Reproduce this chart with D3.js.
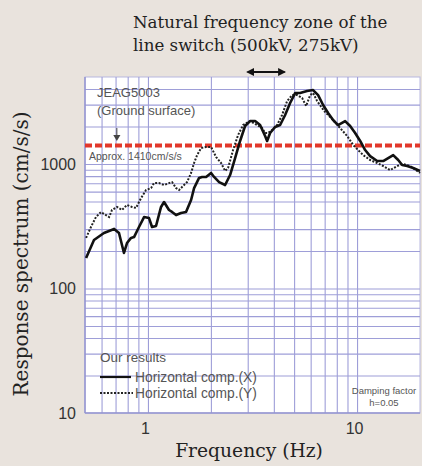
<!DOCTYPE html>
<html>
<head>
<meta charset="utf-8">
<script src="https://cdn.jsdelivr.net/npm/d3@7"></script>
<style>
  body { margin: 0; background: #e9e3dd; }
  svg { display: block; }
  .grid line { stroke: #9e9ed8; stroke-width: 1.1; }
  .grid .domain { display: none; }
  .tick-lbl text { font-family: "Liberation Sans", Arial, sans-serif; font-size: 16px; fill: #333; }
  .tick-lbl .domain { display: none; }
  .serif { font-family: "DejaVu Serif", serif; fill: #222; }
  .note { font-family: "Liberation Sans", Arial, sans-serif; fill: #555; }
</style>
</head>
<body>
<svg id="chart" width="422" height="466"></svg>
<script>
(function() {
    var width = 422, height = 466

    // horizontal comp. (X) - solid
    const freqX = [0.506, 0.552, 0.616, 0.689, 0.727, 0.768, 0.794, 0.830, 0.858, 0.906, 0.958, 1.012, 1.046, 1.093,
        1.155, 1.194, 1.261, 1.304, 1.363, 1.440, 1.521, 1.608, 1.662, 1.756, 1.815, 1.897, 2.004, 2.072, 2.189,
        2.339, 2.471, 2.611, 2.758, 2.914, 3.079, 3.254, 3.438, 3.633, 3.714, 3.838, 4.056, 4.286, 4.529, 4.785,
        5.056, 5.342, 5.767, 6.164, 6.512, 6.881, 7.270, 7.681, 8.116, 8.770, 9.267, 9.791, 10.35, 10.93, 11.55,
        12.48, 13.33, 14.09, 14.89, 15.73, 16.44, 17.37, 18.55, 20.0]
    const accX = [176, 245, 279, 301, 279, 193, 232, 255, 259, 312, 375, 368, 312, 318,
        452, 495, 427, 412, 389, 404, 412, 514, 641, 773, 787, 787, 847, 787, 716,
        678, 816, 1117, 1531, 2019, 2213, 2213, 2056, 1679, 1531, 1775, 1983, 2056, 2478, 3090,
        3716, 3716, 3854, 3928, 3581, 2979, 2570, 2256, 2056, 2213, 2019, 1775, 1531, 1295, 1158,
        1057, 1057, 1117, 1180, 1077, 982, 964, 929, 879]

    // horizontal comp. (Y) - dotted
    const freqY = [0.506, 0.534, 0.564, 0.596, 0.630, 0.652, 0.673, 0.711, 0.751, 0.794, 0.839, 0.877, 0.927, 0.979,
        1.035, 1.069, 1.130, 1.194, 1.261, 1.304, 1.363, 1.409, 1.488, 1.538, 1.608, 1.662, 1.718, 1.795, 1.897,
        2.004, 2.118, 2.238, 2.339, 2.416, 2.553, 2.698, 2.851, 3.079, 3.326, 3.515, 3.633, 3.754, 3.924, 4.147,
        4.381, 4.630, 4.893, 5.170, 5.463, 5.709, 5.966, 6.164, 6.441, 6.958, 7.681, 8.300, 8.967, 9.580, 10.12,
        10.70, 11.55, 12.48, 13.33, 14.40, 15.56, 16.62, 17.95, 20.0]
    const accY = [255, 312, 375, 411, 389, 375, 427, 452, 427, 469, 452, 444, 533, 618,
        641, 703, 703, 678, 703, 716, 641, 618, 678, 716, 847, 1019, 1180, 1344, 1371,
        1371, 1138, 1019, 879, 929, 1295, 1709, 2056, 2213, 2056, 1945, 1775, 1775, 1875, 2056,
        2478, 3206, 3581, 3581, 3388, 2924, 3581, 3716, 3206, 2667, 2256, 1945, 1679, 1422, 1295,
        1180, 1077, 1019, 964, 895, 964, 1000, 964, 847]

    const gridX = [0.6, 0.7, 0.8, 0.9, 1, 2, 3, 4, 5, 6, 7, 8, 9, 10]
    const gridY = [20, 30, 40, 50, 60, 70, 80, 90, 100, 200, 300, 400, 500, 600, 700, 800, 900, 1000, 2000, 3000, 4000]
    const xTicks = [1, 10]
    const yTicks = [10, 100, 1000]
    const level = 1410 // JEAG5003 ground surface
    const zone = [3, 4.5] // natural frequency zone of the line switch

    var left = 85, right = 420, top = 77, bottom = 413

    var x = d3.scaleLog().domain([0.5, 20]).range([left, right])
    var y = d3.scaleLog().domain([10, 5000]).range([bottom, top])

    var svg = d3.select("#chart")

    //plot area
    svg.append("rect")
        .attr("x", left).attr("y", top)
        .attr("width", right - left).attr("height", bottom - top)
        .attr("fill", "#fff")
        .attr("stroke", "#b8b8e0").attr("stroke-width", 1)

    //grid lines from the axes
    svg.append("g").attr("class", "grid")
        .attr("transform", "translate(0," + bottom + ")")
        .call(d3.axisBottom(x).tickValues(gridX).tickSize(-(bottom - top)).tickFormat(""))
    svg.append("g").attr("class", "grid")
        .attr("transform", "translate(" + left + ",0)")
        .call(d3.axisLeft(y).tickValues(gridY).tickSize(-(right - left)).tickFormat(""))

    svg.append("line")
        .attr("x1", left).attr("x2", left).attr("y1", top).attr("y2", bottom)
        .attr("stroke", "#9494d0").attr("stroke-width", 1.5)
    svg.append("line")
        .attr("x1", left).attr("x2", right).attr("y1", bottom).attr("y2", bottom)
        .attr("stroke", "#9494d0").attr("stroke-width", 1.5)

    //tick labels
    svg.append("g").attr("class", "tick-lbl")
        .attr("transform", "translate(0," + bottom + ")")
        .call(d3.axisBottom(x).tickValues(xTicks).tickSize(0).tickPadding(10).tickFormat(d3.format("d")))
        .call((g) => g.selectAll("text").attr("dx", -3))
    svg.append("g").attr("class", "tick-lbl")
        .attr("transform", "translate(" + left + ",0)")
        .call(d3.axisLeft(y).tickValues(yTicks).tickSize(0).tickPadding(9).tickFormat(d3.format("d")))

    //JEAG level
    svg.append("line")
        .attr("x1", left).attr("x2", right)
        .attr("y1", y(level)).attr("y2", y(level))
        .attr("stroke", "#e2382b").attr("stroke-width", 4)
        .attr("stroke-dasharray", "7,3")

    var line = d3.line()
        .x((d) => x(d[0]))
        .y((d) => y(d[1]))

    svg.append("path")
        .datum(d3.zip(freqY, accY))
        .attr("d", line)
        .attr("fill", "none")
        .attr("stroke", "#222").attr("stroke-width", 2)
        .attr("stroke-dasharray", "2,1.5")

    svg.append("path")
        .datum(d3.zip(freqX, accX))
        .attr("d", line)
        .attr("fill", "none")
        .attr("stroke", "#111").attr("stroke-width", 2.6)
        .attr("stroke-linejoin", "round")

    //annotations inside the plot
    svg.append("text").attr("class", "note").attr("x", 97).attr("y", 97)
        .attr("font-size", 13).text("JEAG5003")
    svg.append("text").attr("class", "note").attr("x", 97).attr("y", 115)
        .attr("font-size", 13).text("(Ground surface)")
    svg.append("line")
        .attr("x1", x(0.71)).attr("x2", x(0.71)).attr("y1", 128).attr("y2", 136)
        .attr("stroke", "#444").attr("stroke-width", 1)
    svg.append("path")
        .attr("d", d3.symbol(d3.symbolTriangle, 22)())
        .attr("transform", "translate(" + x(0.71) + ",137) rotate(180)")
        .attr("fill", "#444")
    svg.append("text").attr("class", "note").attr("x", 89).attr("y", 160)
        .attr("font-size", 10.5).text("Approx. 1410cm/s/s")

    //legend
    svg.append("text").attr("class", "note").attr("x", 100).attr("y", 362)
        .attr("font-size", 13.5).text("Our results")
    svg.append("line").attr("x1", 100).attr("x2", 131).attr("y1", 377).attr("y2", 377)
        .attr("stroke", "#111").attr("stroke-width", 2.2)
    svg.append("line").attr("x1", 100).attr("x2", 133).attr("y1", 393).attr("y2", 393)
        .attr("stroke", "#222").attr("stroke-width", 2).attr("stroke-dasharray", "2,1.5")
    svg.append("text").attr("class", "note").attr("x", 135).attr("y", 382)
        .attr("font-size", 13.8).text("Horizontal comp.(X)")
    svg.append("text").attr("class", "note").attr("x", 135).attr("y", 398)
        .attr("font-size", 13.8).text("Horizontal comp.(Y)")

    svg.append("text").attr("class", "note").attr("x", 384).attr("y", 394)
        .attr("font-size", 9.5).attr("text-anchor", "middle").text("Damping factor")
    svg.append("text").attr("class", "note").attr("x", 384).attr("y", 406)
        .attr("font-size", 9.5).attr("text-anchor", "middle").text("h=0.05")

    //zone arrow above the plot
    var defs = svg.append("defs")
    defs.append("marker").attr("id", "ah")
        .attr("viewBox", "0 0 10 10").attr("refX", 8).attr("refY", 5)
        .attr("markerWidth", 4).attr("markerHeight", 4).attr("orient", "auto-start-reverse")
        .append("path").attr("d", "M0,0L10,5L0,10z").attr("fill", "#111")
    svg.append("line")
        .attr("x1", x(zone[0])).attr("x2", x(zone[1]))
        .attr("y1", 72).attr("y2", 72)
        .attr("stroke", "#111").attr("stroke-width", 2)
        .attr("marker-start", "url(#ah)").attr("marker-end", "url(#ah)")

    //titles
    svg.append("text").attr("class", "serif").attr("x", 133).attr("y", 28)
        .attr("font-size", 16.7).text("Natural frequency zone of the")
    svg.append("text").attr("class", "serif").attr("x", 133).attr("y", 51)
        .attr("font-size", 16.7).text("line switch (500kV, 275kV)")

    svg.append("text").attr("class", "serif")
        .attr("x", 249).attr("y", 457)
        .attr("text-anchor", "middle")
        .attr("font-size", 18.7).text("Frequency (Hz)")

    svg.append("text").attr("class", "serif")
        .attr("transform", "translate(28,254) rotate(-90)")
        .attr("text-anchor", "middle")
        .attr("font-size", 20).text("Response spectrum (cm/s/s)")
})();
</script>
</body>
</html>
